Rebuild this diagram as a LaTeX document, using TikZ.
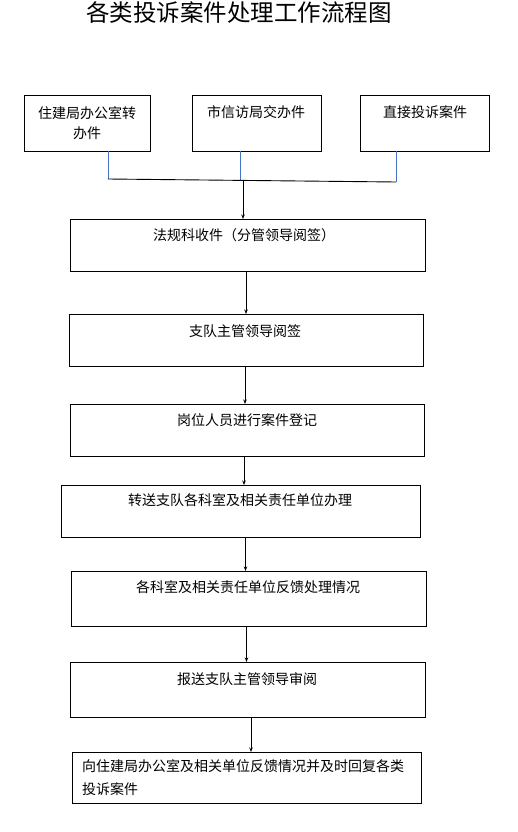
\documentclass[tikz,border=0pt]{standalone}
\usepackage{fontspec}
\newfontfamily\cjk{Noto Sans CJK SC}
\usetikzlibrary{arrows.meta}
\definecolor{lineblue}{RGB}{68,114,196}
\begin{document}
\begin{tikzpicture}[x=1pt,y=-1pt,
  box/.style={draw=black,line width=0.9pt,inner sep=0pt,outer sep=0pt,fill=white},
  txt/.style={inner sep=0pt,font=\cjk\fontsize{14}{20}\selectfont,align=center},
  arr/.style={draw=black,line width=0.8pt,-{Stealth[length=4.5pt,width=3.5pt]}},
  feed/.style={draw=lineblue,line width=0.8pt}]
\useasboundingbox[fill=white] (0,0) rectangle (518,832);
% title
\node[inner sep=0pt,font=\cjk\fontsize{23.5}{26}\selectfont] (title) at (239,13) {各类投诉案件处理工作流程图};
% source boxes
\node[box,minimum width=126pt,minimum height=56pt] (a) at (87,123) {};
\node[box,minimum width=129pt,minimum height=56pt] (b) at (256.5,123) {};
\node[box,minimum width=129pt,minimum height=56pt] (c) at (424.5,123) {};
\node[txt] (ta) at (87,123) {住建局办公室转\\办件};
\node[txt] (tb) at (256,112) {市信访局交办件};
\node[txt] (tc) at (425,112) {直接投诉案件};
% process boxes
\node[box,minimum width=355pt,minimum height=52pt] (d) at (247.5,245) {};
\node[box,minimum width=354pt,minimum height=52pt] (e) at (246,340) {};
\node[box,minimum width=354pt,minimum height=52pt] (f) at (247,430) {};
\node[box,minimum width=359pt,minimum height=52pt] (g) at (240.5,511) {};
\node[box,minimum width=355pt,minimum height=55pt] (h) at (248.5,598.5) {};
\node[box,minimum width=355pt,minimum height=55pt] (i) at (247.5,689.5) {};
\node[box,minimum width=349pt,minimum height=51pt] (j) at (246.5,777.5) {};
\node[txt] (td) at (244,235) {法规科收件（分管领导阅签）};
\node[txt] (te) at (245,331) {支队主管领导阅签};
\node[txt] (tf) at (247,420) {岗位人员进行案件登记};
\node[txt] (tg) at (240,500) {转送支队各科室及相关责任单位办理};
\node[txt] (th) at (248,587) {各科室及相关责任单位反馈处理情况};
\node[txt] (ti) at (247,679) {报送支队主管领导审阅};
\node[txt,align=left,anchor=west,font=\cjk\fontsize{14}{23}\selectfont] (tj) at (82,777.5) {向住建局办公室及相关单位反馈情况并及时回复各类\\投诉案件};
% merge lines
\coordinate (ja) at (108,179);
\coordinate (jb) at (240,180);
\coordinate (jc) at (396,182);
\coordinate (jm) at (243,180.5);
\draw[feed] (a.south -| ja) -- (ja);
\draw[feed] (b.south -| jb) -- (jb);
\draw[feed] (c.south -| jc) -- (jc);
\draw[black,line width=0.9pt] (ja) -- (jc);
\draw[arr] (jm) -- (jm |- d.north);
% arrows between boxes
\coordinate (x1) at (246,0);
\coordinate (x2) at (245,0);
\coordinate (x3) at (244,0);
\coordinate (x4) at (245.5,0);
\coordinate (x5) at (246.5,0);
\coordinate (x6) at (251,0);
\draw[arr] (d.south -| x1) -- (e.north -| x1);
\draw[arr] (e.south -| x2) -- (f.north -| x2);
\draw[arr] (f.south -| x3) -- (g.north -| x3);
\draw[arr] (g.south -| x4) -- (h.north -| x4);
\draw[arr] (h.south -| x5) -- (i.north -| x5);
\draw[arr] (i.south -| x6) -- (j.north -| x6);
\end{tikzpicture}
\end{document}
